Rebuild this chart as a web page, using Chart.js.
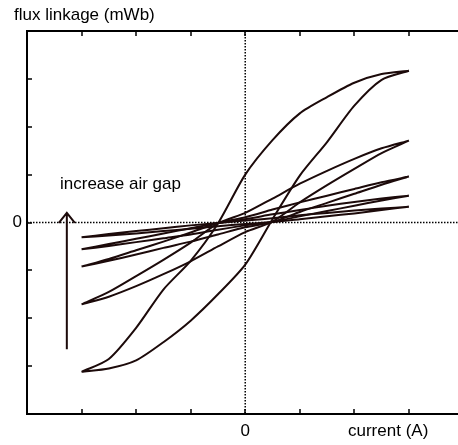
<!DOCTYPE html>
<html>
<head>
<meta charset="utf-8">
<script src="https://cdn.jsdelivr.net/npm/chart.js@4.4.1/dist/chart.umd.min.js"></script>
<style>
  html, body { margin: 0; padding: 0; background: #fff; }
  #wrap { width: 458px; height: 445px; }
</style>
</head>
<body>
<div id="wrap"><canvas id="loops" width="458" height="445"></canvas></div>
<script>
// current samples (A, arbitrary units of the plot grid)
const currentSteps = [-3, -2.5, -2, -1.5, -1, -0.5, 0, 0.5, 1, 1.5, 2, 2.5, 3];

// rising branch (current going up) for each air gap, smallest gap first
const rise1 = [-3.12, -3.05, -2.88, -2.5, -2.05, -1.5, -0.88, 0.07, 0.98, 1.68, 2.44, 2.98, 3.17];
const rise2 = [-1.71, -1.55, -1.33, -1.08, -0.81, -0.5, -0.2, 0.02, 0.42, 0.78, 1.12, 1.45, 1.71];
const rise3 = [-0.92, -0.8, -0.67, -0.53, -0.4, -0.25, -0.1, 0.01, 0.22, 0.41, 0.6, 0.79, 0.96];
const rise4 = [-0.56, -0.49, -0.41, -0.33, -0.25, -0.15, -0.06, 0.01, 0.13, 0.24, 0.35, 0.46, 0.56];
const rise5 = [-0.31, -0.27, -0.23, -0.18, -0.13, -0.08, -0.03, 0.01, 0.07, 0.13, 0.19, 0.26, 0.33];

// falling branch (current going down), same current order as currentSteps
const fall1 = [-3.12, -2.85, -2.2, -1.4, -0.8, -0.02, 1.0, 1.72, 2.28, 2.62, 2.92, 3.1, 3.17];
const fall2 = [-1.71, -1.45, -1.12, -0.78, -0.42, -0.02, 0.2, 0.5, 0.81, 1.08, 1.33, 1.55, 1.71];
const fall3 = [-0.92, -0.76, -0.58, -0.4, -0.21, -0.01, 0.11, 0.27, 0.42, 0.56, 0.7, 0.84, 0.96];
const fall4 = [-0.56, -0.45, -0.34, -0.23, -0.12, -0.01, 0.07, 0.17, 0.26, 0.35, 0.43, 0.5, 0.56];
const fall5 = [-0.31, -0.24, -0.18, -0.12, -0.06, -0.01, 0.04, 0.09, 0.15, 0.2, 0.25, 0.29, 0.33];

const gridTicks = [-3, -2, -1, 0, 1, 2, 3];

const rises = [rise1, rise2, rise3, rise4, rise5];
const falls = [fall1, fall2, fall3, fall4, fall5];

const INK = '#1c0a0a';
const FONT = '"Liberation Sans", Arial, sans-serif';

function loopPoints(rise, fall) {
  const up = currentSteps.map((x, i) => ({ x: x, y: rise[i] }));
  const down = currentSteps.map((x, i) => ({ x: x, y: fall[i] })).reverse();
  return up.concat(down);
}

const datasets = rises.map((r, i) => ({
  data: loopPoints(r, falls[i]),
  showLine: true,
  borderColor: INK,
  borderWidth: 2,
  pointRadius: 0,
  tension: 0.25
}));

// axes, ticks, dotted zero lines and the annotations
const framePlugin = {
  id: 'frame',
  beforeDatasetsDraw(chart) {
    const { ctx, chartArea: a, scales } = chart;
    const x0 = scales.x.getPixelForValue(0);
    const y0 = scales.y.getPixelForValue(0);
    ctx.save();
    ctx.strokeStyle = '#000';
    ctx.lineWidth = 1.5;
    ctx.setLineDash([1.5, 1.5]);
    ctx.beginPath();
    ctx.moveTo(a.left, y0); ctx.lineTo(a.right, y0);
    ctx.moveTo(x0, a.top); ctx.lineTo(x0, a.bottom);
    ctx.stroke();
    ctx.restore();
  },
  afterDraw(chart) {
    const { ctx, chartArea: a, scales } = chart;
    ctx.save();
    ctx.strokeStyle = '#000';
    ctx.lineWidth = 2;
    ctx.beginPath();
    ctx.moveTo(a.right, a.top); ctx.lineTo(a.left, a.top);
    ctx.lineTo(a.left, a.bottom); ctx.lineTo(a.right, a.bottom);
    ctx.stroke();

    ctx.lineWidth = 1.5;
    ctx.beginPath();
    gridTicks.forEach(v => {
      const px = Math.round(scales.x.getPixelForValue(v));
      ctx.moveTo(px, a.top); ctx.lineTo(px, a.top + 5);
      ctx.moveTo(px, a.bottom); ctx.lineTo(px, a.bottom - 5);
      const py = Math.round(scales.y.getPixelForValue(v));
      ctx.moveTo(a.left, py); ctx.lineTo(a.left + 5, py);
    });
    ctx.stroke();

    // arrow
    const ax = scales.x.getPixelForValue(-3.27);
    const yTop = scales.y.getPixelForValue(0.2);
    const yBot = scales.y.getPixelForValue(-2.65);
    ctx.lineWidth = 2;
    ctx.strokeStyle = INK;
    ctx.beginPath();
    ctx.moveTo(ax, yBot); ctx.lineTo(ax, yTop);
    ctx.moveTo(ax - 8, yTop + 10); ctx.lineTo(ax, yTop); ctx.lineTo(ax + 8, yTop + 10);
    ctx.stroke();

    ctx.fillStyle = '#000';
    ctx.font = '17px ' + FONT;
    ctx.textBaseline = 'middle';
    ctx.textAlign = 'left';
    ctx.fillText('flux linkage (mWb)', 14, 15);
    ctx.fillText('increase air gap', 60, 184);
    ctx.fillText('current (A)', 348, 431);
    ctx.textAlign = 'center';
    ctx.fillText('0', scales.x.getPixelForValue(0), 431);
    ctx.textAlign = 'right';
    ctx.fillText('0', 22, scales.y.getPixelForValue(0));
    ctx.restore();
  }
};

new Chart(document.getElementById('loops'), {
  type: 'scatter',
  data: { datasets: datasets },
  options: {
    responsive: false,
    animation: false,
    layout: { padding: { left: 27, top: 31, right: 0, bottom: 31 } },
    plugins: { legend: { display: false }, tooltip: { enabled: false } },
    scales: {
      x: { type: 'linear', min: -4, max: 3.9, display: false },
      y: { type: 'linear', min: -4, max: 4, display: false }
    }
  },
  plugins: [framePlugin]
});
</script>
</body>
</html>
